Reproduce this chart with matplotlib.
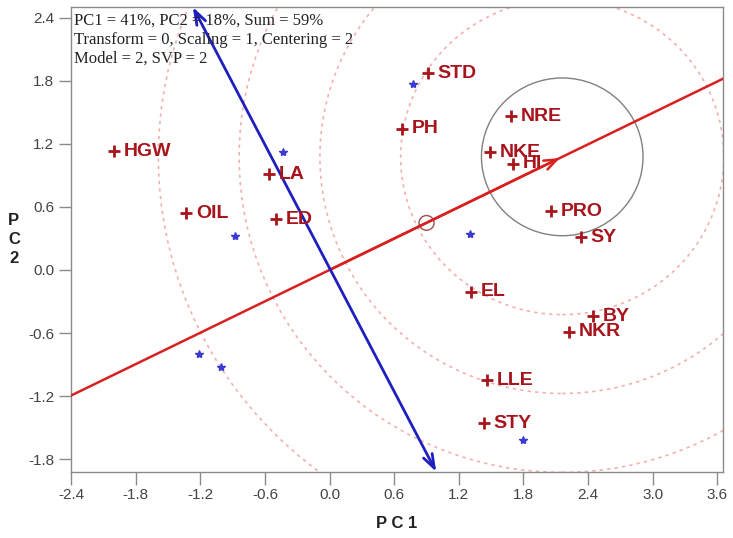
import matplotlib
matplotlib.use("Agg")
import matplotlib.pyplot as plt
import numpy as np
from matplotlib.patches import Circle

# ---- data ----
gen_names = ["HGW", "OIL", "LA", "ED", "STD", "PH", "NRE", "NKE", "HI", "PRO", "SY",
             "EL", "BY", "NKR", "LLE", "STY"]
gen_pc1 = [-2.00, -1.33, -0.56, -0.50, 0.91, 0.67, 1.68, 1.49, 1.70, 2.06, 2.33,
           1.31, 2.45, 2.22, 1.46, 1.43]
gen_pc2 = [1.13, 0.54, 0.91, 0.48, 1.87, 1.34, 1.46, 1.12, 1.01, 0.56, 0.31,
           -0.21, -0.44, -0.59, -1.05, -1.46]

env_pc1 = [-0.43, -0.88, 0.77, 1.30, -1.21, -1.01, 1.80]
env_pc2 = [1.12, 0.32, 1.77, 0.34, -0.80, -0.92, -1.62]

ideal_point = [2.16, 1.075]          # arrow head / circle centre
avg_point = [0.90, 0.447]            # small circle on the axis
perp_start = [-1.27, 2.50]
perp_end = [0.99, -1.92]
circle_radii = [1.5, 2.25, 3.0, 3.75]
inner_radius = 0.75

x_ticks = [-2.4, -1.8, -1.2, -0.6, 0.0, 0.6, 1.2, 1.8, 2.4, 3.0, 3.6]
y_ticks = [-1.8, -1.2, -0.6, 0.0, 0.6, 1.2, 1.8, 2.4]
xlim = (-2.4, 3.65)
ylim = (-1.92, 2.50)

info_lines = ["PC1 = 41%, PC2 = 18%, Sum = 59%",
              "Transform = 0, Scaling = 1, Centering = 2",
              "Model = 2, SVP = 2"]

# ---- figure ----
fig = plt.figure(figsize=(7.33, 5.38), dpi=100)
ax = fig.add_axes([0.097, 0.123, 0.889, 0.864])
ax.set_xlim(*xlim)
ax.set_ylim(*ylim)

red = "#d92020"
dark_red = "#a8141c"
blue = "#1f1fc0"

# concentric dashed circles
for r in circle_radii:
    ax.add_patch(Circle(ideal_point, r, fill=False, ls=(0, (2.0, 2.5)), lw=1.2,
                        ec="#f3b0b0", zorder=1))
ax.add_patch(Circle(ideal_point, inner_radius, fill=False, lw=1.0, ec="#808080", zorder=2))
ax.add_patch(Circle(avg_point, 0.07, fill=False, lw=1.0, ec="#a05050", zorder=3))

# red average-environment axis line
slope = ideal_point[1] / ideal_point[0]
xx = np.array(xlim)
ax.plot(xx, slope * xx, color=red, lw=1.8, zorder=3)
ax.annotate("", xy=ideal_point, xytext=(0, 0),
            arrowprops=dict(arrowstyle="->,head_length=0.9,head_width=0.35", color=red, lw=1.8),
            zorder=4)

# blue perpendicular axis with arrow heads
ax.annotate("", xy=perp_end, xytext=perp_start,
            arrowprops=dict(arrowstyle="<->,head_length=1.0,head_width=0.35", color=blue, lw=2.0,
                            shrinkA=0, shrinkB=0),
            zorder=4)

# environments
ax.plot(env_pc1, env_pc2, ls="none", marker="*", ms=6, color="#3a3ad0", zorder=5)

# genotypes
ax.plot(gen_pc1, gen_pc2, ls="none", marker="+", ms=8, mew=2.0, color=dark_red, zorder=5)
for n, x, y in zip(gen_names, gen_pc1, gen_pc2):
    ax.annotate(n, (x, y), xytext=(7, 0), textcoords="offset points",
                ha="left", va="center", fontsize=14, fontweight="bold",
                color=dark_red, family="Liberation Sans", zorder=6)

# info text
for i, line in enumerate(info_lines):
    ax.text(0.004, 0.988 - i * 0.041, line, transform=ax.transAxes, ha="left", va="top",
            fontsize=12, family="Liberation Serif", color="#222222", zorder=7)

# axes styling
for s in ax.spines.values():
    s.set_color("#8a8a8a")
    s.set_linewidth(1.0)
ax.set_xticks(x_ticks)
ax.set_yticks(y_ticks)
ax.set_xticklabels([f"{v:.1f}" for v in x_ticks])
ax.set_yticklabels([f"{v:.1f}" for v in y_ticks])
ax.tick_params(axis="both", direction="out", length=9, width=1.0, color="#8a8a8a",
               labelsize=11, labelcolor="#444444", pad=3)
for lbl in ax.get_xticklabels() + ax.get_yticklabels():
    lbl.set_family("Liberation Sans")

ax.set_xlabel("P C 1", fontsize=12, fontweight="bold", family="Liberation Sans",
              color="#222222", labelpad=10)
fig.text(0.019, 0.555, "P\nC\n2", fontsize=12, fontweight="bold", family="Liberation Sans",
         color="#222222", ha="center", va="center", linespacing=1.3)

fig.savefig("out.png", dpi=100)
